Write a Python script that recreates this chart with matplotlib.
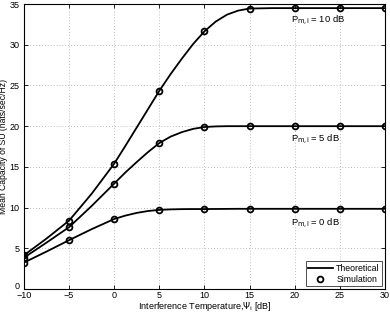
import numpy as np
import matplotlib.pyplot as plt
import matplotlib.transforms as mtransforms

plt.rcParams['font.family'] = ['Liberation Sans', 'DejaVu Sans']

# simulation points
psi_sim = [-10, -5, 0, 5, 10, 15, 20, 25, 30]
cap_10db_sim = [4.15, 8.4, 15.4, 24.35, 31.65, 34.45, 34.5, 34.5, 34.5]
cap_5db_sim = [3.85, 7.6, 12.95, 17.93, 19.9, 20.0, 20.0, 20.0, 20.0]
cap_0db_sim = [3.25, 6.0, 8.6, 9.72, 9.82, 9.85, 9.85, 9.85, 9.85]

# theoretical curves (at finer steps)
psi_th = [-10, -7.5, -5, -2.5, 0, 1.25, 2.5, 3.75, 5, 6.25, 7.5, 8.75, 10,
          11.25, 12.5, 13.75, 15, 17.5, 20, 25, 30]
cap_10db_th = [4.15, 6.2, 8.4, 11.7, 15.4, 17.6, 19.85, 22.1, 24.35, 26.4, 28.3, 30.1, 31.65,
               32.85, 33.7, 34.2, 34.45, 34.5, 34.5, 34.5, 34.5]
cap_5db_th = [3.85, 5.7, 7.6, 10.2, 12.95, 14.33, 15.6, 16.82, 17.93, 18.72, 19.27, 19.67, 19.9,
              19.97, 20.0, 20.0, 20.0, 20.0, 20.0, 20.0, 20.0]
cap_0db_th = [3.25, 4.6, 6.0, 7.35, 8.6, 9.02, 9.35, 9.58, 9.72, 9.78, 9.81, 9.82, 9.82,
              9.83, 9.84, 9.85, 9.85, 9.85, 9.85, 9.85, 9.85]

fig = plt.figure(figsize=(3.9, 3.14), dpi=100)
ax = fig.add_axes([0.0615, 0.0796, 0.9255, 0.9075])

for th in [cap_10db_th, cap_5db_th, cap_0db_th]:
    ax.plot(psi_th, th, color='black', lw=1.3)
for sim in [cap_10db_sim, cap_5db_sim, cap_0db_sim]:
    ax.plot(psi_sim, sim, 'o', mfc='none', mec='black', ms=4.2, mew=1.3)

ax.plot([], [], color='black', lw=1.3, label='Theoretical')
ax.plot([], [], 'o', mfc='none', mec='black', ms=4.2, mew=1.3, label='Simulation')

sub = r'P$_{\mathrm{m{,}i}}$'
ax.text(19.6, 33.0, sub + ' = 10 dB', fontsize=6.8, va='center')
ax.text(19.6, 18.4, sub + ' = 5 dB', fontsize=6.8, va='center')
ax.text(19.6, 8.1, sub + ' = 0 dB', fontsize=6.8, va='center')

ax.set_xlim(-10, 30)
ax.set_ylim(0, 35)
ax.set_xticks(np.arange(-10, 31, 5))
ax.set_yticks(np.arange(0, 36, 5))
ax.set_xticklabels(['\u221210', '\u22125', '0', '5', '10', '15', '20', '25', '30'])
ax.tick_params(direction='in', top=True, right=True, labelsize=6.5, length=3, width=0.6, pad=1.5)
ax.tick_params(axis='y', pad=3)
ax.grid(True, linestyle=(0, (1, 2.5)), color='#a8a8a8', lw=0.6)
for s in ax.spines.values():
    s.set_linewidth(0.8)

# lift the "0" y tick label a little so it clears the "-10" below it
lbl0 = ax.get_yticklabels()[0]
lbl0.set_transform(lbl0.get_transform() + mtransforms.ScaledTranslation(0, 2.5 / 72, fig.dpi_scale_trans))

ax.set_xlabel(r'Interference Temperature,$\Psi_{\mathrm{i}}$ [dB]', fontsize=6.5, labelpad=0)
ax.set_ylabel('Mean Capacity of SU (nats/sec/Hz)', fontsize=6.2, labelpad=1)

leg = ax.legend(loc='lower right', fontsize=6.3, frameon=True, fancybox=False,
                edgecolor='black', borderaxespad=0.3, handlelength=2.8,
                borderpad=0.3, labelspacing=0.2, handletextpad=0.4)
leg.get_frame().set_linewidth(0.6)

fig.savefig('out.png', dpi=100)
